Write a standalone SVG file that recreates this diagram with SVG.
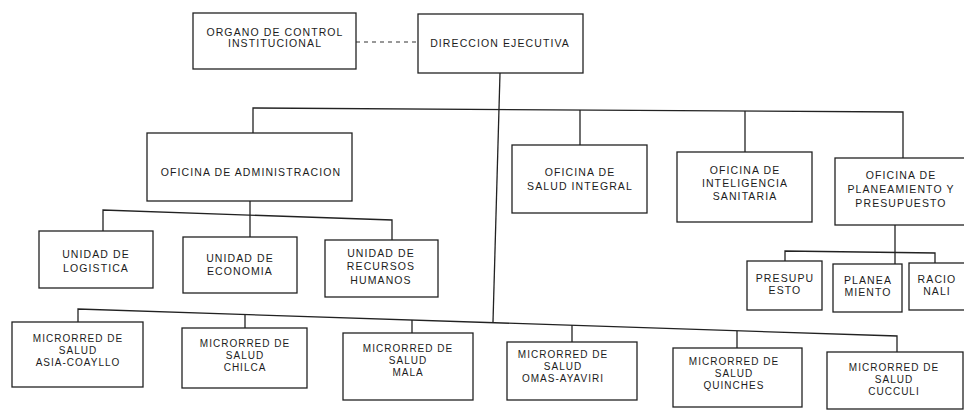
<svg xmlns="http://www.w3.org/2000/svg" width="964" height="410" viewBox="0 0 964 410">
<style>
.box{fill:#fff;stroke:#222;stroke-width:1.3}
.ln{fill:none;stroke:#222;stroke-width:1.3}
.dash{fill:none;stroke:#333;stroke-width:1.2;stroke-dasharray:4 4}
text{font-family:"Liberation Sans",Arial,sans-serif;font-size:10.5px;letter-spacing:1.1px;fill:#1c1c1c;text-anchor:middle}
.sm{font-size:10px;letter-spacing:1px}
</style>
<rect width="964" height="410" fill="#fff"/>
<g id="connectors">
<path class="dash" d="M356,42 L418,42"/>
<path class="ln" d="M500,73 L493,322"/>
<path class="ln" d="M253,133 V108 L903,112 V158"/>
<path class="ln" d="M580,110 V145"/>
<path class="ln" d="M745,111 V152"/>
<path class="ln" d="M250,201 V213"/>
<path class="ln" d="M103,231 V210 L392,220 V240"/>
<path class="ln" d="M250,213 V237"/>
<path class="ln" d="M895,225 V264"/>
<path class="ln" d="M785,261 V251 L935,253 V263"/>
<path class="ln" d="M78,322 V309 L897,336 V352"/>
<path class="ln" d="M245,314 V328"/>
<path class="ln" d="M412,320 V333"/>
<path class="ln" d="M572,325 V342"/>
<path class="ln" d="M737,331 V348"/>
</g>
<g id="organo"><rect class="box" x="193" y="13" width="163" height="56"/><text x="275" y="36">ORGANO DE CONTROL</text><text x="275" y="47">INSTITUCIONAL</text></g>
<g id="direccion"><rect class="box" x="418" y="14" width="165" height="59"/><text x="500" y="47">DIRECCION EJECUTIVA</text></g>
<g id="administracion"><rect class="box" x="147" y="133" width="205" height="68"/><text x="251" y="176">OFICINA DE ADMINISTRACION</text></g>
<g id="salud-integral"><rect class="box" x="512" y="145" width="135" height="68"/><text x="580" y="176">OFICINA DE</text><text x="580" y="190">SALUD INTEGRAL</text></g>
<g id="inteligencia"><rect class="box" x="677" y="152" width="135" height="70"/><text x="745" y="174">OFICINA DE</text><text x="745" y="187">INTELIGENCIA</text><text x="745" y="200">SANITARIA</text></g>
<g id="planeamiento"><rect class="box" x="835" y="158" width="135" height="67"/><text x="901" y="179">OFICINA DE</text><text x="901" y="193">PLANEAMIENTO  Y</text><text x="901" y="207">PRESUPUESTO</text></g>
<g id="logistica"><rect class="box" x="39" y="231" width="114" height="57"/><text x="96" y="258">UNIDAD DE</text><text x="96" y="272">LOGISTICA</text></g>
<g id="economia"><rect class="box" x="183" y="237" width="114" height="56"/><text x="240" y="262">UNIDAD DE</text><text x="240" y="275">ECONOMIA</text></g>
<g id="rrhh"><rect class="box" x="325" y="240" width="113" height="57"/><text x="381" y="257">UNIDAD DE</text><text x="381" y="270">RECURSOS</text><text x="381" y="284">HUMANOS</text></g>
<g id="presupuesto"><rect class="box" x="747" y="261" width="75" height="49"/><text x="785" y="282">PRESUPU</text><text x="785" y="294">ESTO</text></g>
<g id="planea"><rect class="box" x="833" y="264" width="69" height="48"/><text x="868" y="284">PLANEA</text><text x="868" y="296">MIENTO</text></g>
<g id="racio"><rect class="box" x="909" y="263" width="60" height="47"/><text x="937" y="283">RACIO</text><text x="937" y="295">NALI</text></g>
<g id="asia"><rect class="box" x="12" y="322" width="131" height="65"/><text class="sm" x="78" y="342">MICRORRED DE</text><text class="sm" x="78" y="354">SALUD</text><text class="sm" x="78" y="366">ASIA-COAYLLO</text></g>
<g id="chilca"><rect class="box" x="182" y="328" width="125" height="60"/><text class="sm" x="245" y="347">MICRORRED DE</text><text class="sm" x="245" y="359">SALUD</text><text class="sm" x="245" y="371">CHILCA</text></g>
<g id="mala"><rect class="box" x="343" y="333" width="130" height="67"/><text class="sm" x="408" y="352">MICRORRED DE</text><text class="sm" x="408" y="364">SALUD</text><text class="sm" x="408" y="376">MALA</text></g>
<g id="omas"><rect class="box" x="507" y="342" width="130" height="58"/><text class="sm" x="563" y="358">MICRORRED DE</text><text class="sm" x="563" y="370">SALUD</text><text class="sm" x="563" y="382">OMAS-AYAVIRI</text></g>
<g id="quinches"><rect class="box" x="673" y="348" width="129" height="59"/><text class="sm" x="734" y="365">MICRORRED DE</text><text class="sm" x="734" y="377">SALUD</text><text class="sm" x="734" y="389">QUINCHES</text></g>
<g id="cucculi"><rect class="box" x="827" y="352" width="136" height="57"/><text class="sm" x="894" y="371">MICRORRED DE</text><text class="sm" x="894" y="383">SALUD</text><text class="sm" x="894" y="395">CUCCULI</text></g>
</svg>
